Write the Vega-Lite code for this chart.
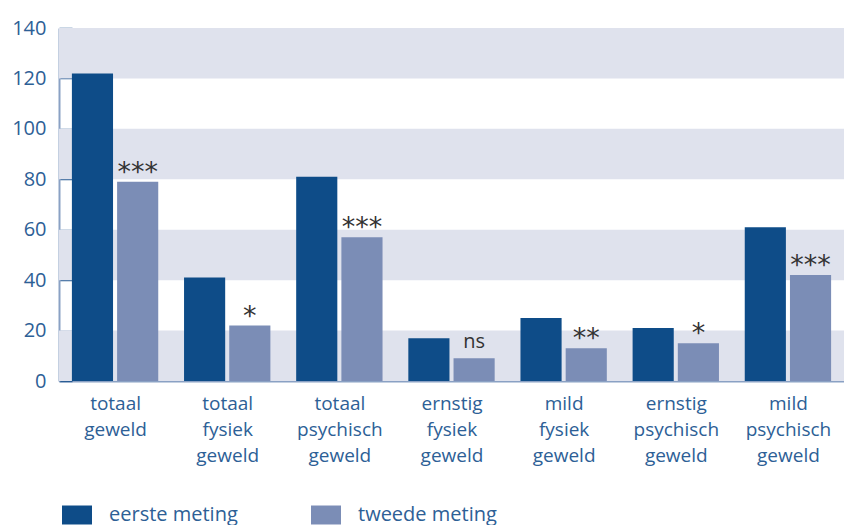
{
  "$schema": "https://vega.github.io/schema/vega-lite/v6.json",
  "width": 785,
  "height": 353,
  "autosize": "none",
  "padding": {"left": 59, "top": 28, "right": 0, "bottom": 144},
  "background": "white",
  "config": {"view": {"stroke": null}, "font": "Open Sans"},
  "datasets": {
    "bars": [
      {"cat": "totaal geweld", "meting": "eerste meting", "waarde": 122, "sig": ""},
      {"cat": "totaal geweld", "meting": "tweede meting", "waarde": 79, "sig": "***"},
      {"cat": "totaal fysiek geweld", "meting": "eerste meting", "waarde": 41, "sig": ""},
      {"cat": "totaal fysiek geweld", "meting": "tweede meting", "waarde": 22, "sig": "*"},
      {"cat": "totaal psychisch geweld", "meting": "eerste meting", "waarde": 81, "sig": ""},
      {"cat": "totaal psychisch geweld", "meting": "tweede meting", "waarde": 57, "sig": "***"},
      {"cat": "ernstig fysiek geweld", "meting": "eerste meting", "waarde": 17, "sig": ""},
      {"cat": "ernstig fysiek geweld", "meting": "tweede meting", "waarde": 9, "sig": "ns"},
      {"cat": "mild fysiek geweld", "meting": "eerste meting", "waarde": 25, "sig": ""},
      {"cat": "mild fysiek geweld", "meting": "tweede meting", "waarde": 13, "sig": "**"},
      {"cat": "ernstig psychisch geweld", "meting": "eerste meting", "waarde": 21, "sig": ""},
      {"cat": "ernstig psychisch geweld", "meting": "tweede meting", "waarde": 15, "sig": "*"},
      {"cat": "mild psychisch geweld", "meting": "eerste meting", "waarde": 61, "sig": ""},
      {"cat": "mild psychisch geweld", "meting": "tweede meting", "waarde": 42, "sig": "***"}
    ],
    "bands": [
      {"lo": 0, "hi": 20},
      {"lo": 40, "hi": 60},
      {"lo": 80, "hi": 100},
      {"lo": 120, "hi": 140}
    ]
  },
  "layer": [
    {
      "data": {"name": "bands"},
      "mark": {"type": "rect", "color": "#dfe2ed"},
      "encoding": {
        "y": {
          "field": "lo",
          "type": "quantitative",
          "scale": {"domain": [0, 140], "nice": false},
          "axis": {
            "title": null,
            "values": [0, 20, 40, 60, 80, 100, 120, 140],
            "grid": false,
            "domainColor": "#8aa1c4",
            "domainWidth": 2,
            "tickColor": "#2a5d94",
            "tickSize": -13,
            "tickWidth": 1.5,
            "labelPadding": 26,
            "labelFontSize": 20,
            "labelColor": "#2d6096",
            "labelFont": "Open Sans"
          }
        },
        "y2": {"field": "hi"}
      }
    },
    {
      "data": {"name": "bars"},
      "mark": {"type": "bar"},
      "encoding": {
        "x": {
          "field": "cat",
          "type": "nominal",
          "sort": null,
          "scale": {"paddingInner": 0.23, "paddingOuter": 0.115},
          "axis": {
            "title": null,
            "labelAngle": 0,
            "labelExpr": "datum.value ? split(datum.value, ' ') : ''",
            "labelFontSize": 19,
            "labelLineHeight": 26,
            "labelColor": "#2d6096",
            "labelPadding": 21,
            "domainColor": "#8aa1c4",
            "domainWidth": 2,
            "tickBand": "extent",
            "tickSize": -8,
            "tickWidth": 1.5,
            "tickColor": "#2a5d94"
          }
        },
        "xOffset": {
          "field": "meting",
          "type": "nominal",
          "scale": {"paddingInner": 0.09, "paddingOuter": 0}
        },
        "y": {"field": "waarde", "type": "quantitative"},
        "color": {
          "field": "meting",
          "type": "nominal",
          "scale": {"domain": ["eerste meting", "tweede meting"], "range": ["#0e4c88", "#7b8db6"]},
          "legend": {
            "title": null,
            "orient": "none",
            "legendX": 3,
            "legendY": 472,
            "direction": "horizontal",
            "padding": 0,
            "symbolType": "M-1,-0.633H1V0.633H-1Z",
            "symbolSize": 900,
            "symbolStrokeWidth": 0,
            "symbolOpacity": 1,
            "labelFontSize": 20,
            "labelColor": "#2d6096",
            "labelOffset": 17,
            "columnPadding": 73
          }
        }
      }
    },
    {
      "data": {"name": "bars"},
      "transform": [{"filter": "datum.sig != '' && datum.sig != 'ns'"}],
      "mark": {"type": "text", "baseline": "alphabetic", "dy": -1, "fontSize": 27, "color": "#333333", "font": "DejaVu Sans"},
      "encoding": {
        "x": {"field": "cat", "type": "nominal", "sort": null},
        "xOffset": {"field": "meting", "type": "nominal"},
        "y": {"field": "waarde", "type": "quantitative"},
        "text": {"field": "sig"}
      }
    },
    {
      "data": {"name": "bars"},
      "transform": [{"filter": "datum.sig == 'ns'"}],
      "mark": {"type": "text", "baseline": "alphabetic", "dy": -10, "fontSize": 20, "color": "#333333", "font": "Open Sans"},
      "encoding": {
        "x": {"field": "cat", "type": "nominal", "sort": null},
        "xOffset": {"field": "meting", "type": "nominal"},
        "y": {"field": "waarde", "type": "quantitative"},
        "text": {"field": "sig"}
      }
    }
  ]
}
